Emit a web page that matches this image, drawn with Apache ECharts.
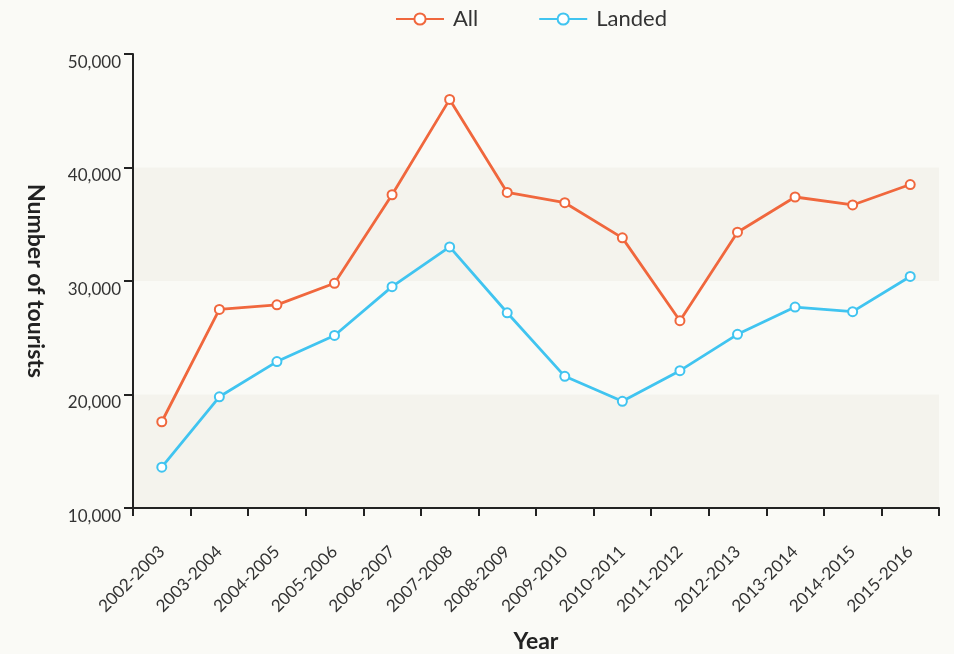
<!DOCTYPE html>
<html>
<head>
<meta charset="utf-8">
<script src="https://cdn.jsdelivr.net/npm/echarts@6/dist/echarts.min.js"></script>
<style>
html,body{margin:0;padding:0;background:#fafaf6;}
#chart{width:954px;height:654px;}
</style>
</head>
<body>
<div id="chart"></div>
<script>
const categories = ['2002-2003','2003-2004','2004-2005','2005-2006','2006-2007','2007-2008','2008-2009','2009-2010','2010-2011','2011-2012','2012-2013','2013-2014','2014-2015','2015-2016'];
const allValues = [17600, 27500, 27900, 29800, 37600, 46000, 37800, 36900, 33800, 26500, 34300, 37400, 36700, 38500];
const landedValues = [13600, 19800, 22900, 25200, 29500, 33000, 27200, 21600, 19400, 22100, 25300, 27700, 27300, 30400];
const yTicks = [10000, 20000, 30000, 40000, 50000];

const chart = echarts.init(document.getElementById('chart'));
const font = 'Lato, "Noto Sans", sans-serif';
chart.setOption({
  backgroundColor: '#fafaf6',
  textStyle: { fontFamily: font },
  legend: {
    top: 3,
    left: 390,
    itemWidth: 48,
    itemHeight: 14,
    itemGap: 60,
    textStyle: { fontFamily: font, fontSize: 22, color: '#333', padding: [0, 0, 0, 4] },
    data: ['All', 'Landed']
  },
  grid: { left: 133, right: 15, top: 54, bottom: 146, containLabel: false, outerBoundsMode: 'none' },
  xAxis: {
    type: 'category',
    data: categories,
    boundaryGap: true,
    name: 'Year',
    nameLocation: 'middle',
    nameGap: 122,
    nameTextStyle: { fontFamily: font, fontSize: 23, fontWeight: 'bold', color: '#222' },
    axisLine: { lineStyle: { color: '#222', width: 2 } },
    axisTick: { show: true, length: 8, lineStyle: { color: '#222', width: 2 } },
    axisLabel: { rotate: 45, fontFamily: font, fontSize: 17, color: '#333', margin: 41 },
    splitLine: { show: false }
  },
  yAxis: {
    type: 'value',
    min: yTicks[0],
    max: yTicks[yTicks.length - 1],
    interval: 10000,
    name: 'Number of tourists',
    nameLocation: 'middle',
    nameRotate: -90,
    nameGap: 86,
    nameTextStyle: { fontFamily: font, fontSize: 23, fontWeight: 'bold', color: '#222' },
    axisLine: { show: true, lineStyle: { color: '#222', width: 2 } },
    axisTick: { show: true, length: 9, lineStyle: { color: '#222', width: 2 } },
    axisLabel: {
      fontFamily: font, fontSize: 17, color: '#333', margin: 12,
      verticalAlign: 'top',
      formatter: v => v.toLocaleString('en-US')
    },
    splitLine: { show: false },
    splitArea: { show: true, areaStyle: { color: ['#f4f3ed', 'rgba(0,0,0,0)'] } }
  },
  series: [
    {
      name: 'All', type: 'line', data: allValues,
      symbol: 'emptyCircle', symbolSize: 9,
      color: '#f0673d',
      lineStyle: { width: 2.8, color: '#f0673d' },
      itemStyle: { color: '#f0673d', borderWidth: 2.2 }
    },
    {
      name: 'Landed', type: 'line', data: landedValues,
      symbol: 'emptyCircle', symbolSize: 9,
      color: '#40c4f0',
      lineStyle: { width: 2.8, color: '#40c4f0' },
      itemStyle: { color: '#40c4f0', borderWidth: 2.2 }
    }
  ]
});
</script>
</body>
</html>
